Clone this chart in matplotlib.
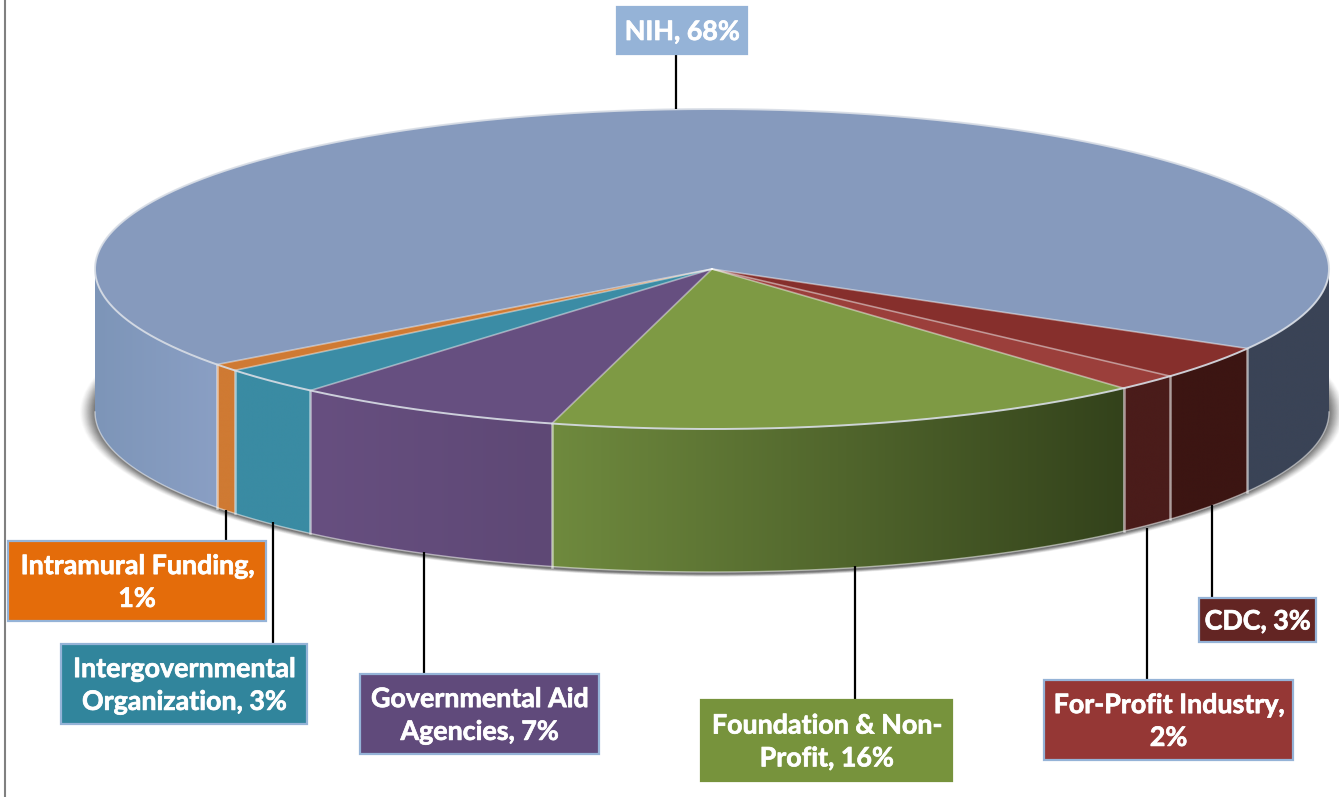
import numpy as np
import matplotlib
matplotlib.use("Agg")
import matplotlib.pyplot as plt
import matplotlib.patheffects as pe
from matplotlib.patches import Polygon, Ellipse, Rectangle
from matplotlib.colors import to_rgb

# ---- data -------------------------------------------------------------
categories = ["CDC", "For-Profit Industry", "Foundation & Non-Profit",
              "Governmental Aid Agencies", "Intergovernmental Organization",
              "Intramural Funding", "NIH"]
# slice shares as measured on the drawn pie (printed labels are rounded)
shares = [3.4, 1.7, 15.8, 7.1, 2.8, 0.74, 68.46]
label_texts = ["CDC, 3%", "For-Profit Industry,\n2%", "Foundation & Non-\nProfit, 16%",
               "Governmental Aid\nAgencies, 7%", "Intergovernmental\nOrganization, 3%",
               "Intramural Funding,\n1%", "NIH, 68%"]
top_colors = ["#862f2c", "#9b3f3b", "#7e9a44", "#664f80", "#3b8ca5", "#cf7a33", "#869abd"]
wall_left = ["#3c1512", "#4a1c1a", "#6f8a3e", "#674f80", "#3a8ba3", "#cf7a33", "#7d95b8"]
wall_right = ["#3c1512", "#4a1c1a", "#33421b", "#5e4875", "#3a8ba3", "#cf7a33", "#8a9fc4"]
nih_right_wall = "#3a4356"
box_colors = ["#632523", "#953735", "#77933c", "#604a7b", "#31859c", "#e46c0a", "#95b3d7"]
box_edges = ["#95b3d7", "#95b3d7", "#77933c", "#95b3d7", "#95b3d7", "#95b3d7", "#95b3d7"]
# label boxes: left, top, right, bottom; leader x
boxes = [(1199, 598, 1316, 642), (1044, 680, 1293, 760), (701, 700, 952, 781),
         (360, 674, 599, 754), (61, 644, 307, 724), (8, 541, 266, 621), (617, 7, 747, 54)]
leader_x = [1212, 1147, 855, 424, 273, 226, 676]
leader_start = [505, 528, 566, 552, 522, 510, 109]

# ---- geometry ---------------------------------------------------------
W, H = 1339, 797
CX, CY, RX, RY, DEPTH = 712, 269, 617, 160, 143
START = -29.8

def pt(deg, dy=0):
    t = np.radians(deg)
    return np.column_stack([CX + RX*np.cos(t), CY - RY*np.sin(t) + dy])

def arc(a, b, dy=0, n=None):
    n = n or max(2, int(abs(b-a)*4))
    return pt(np.linspace(a, b, n), dy)

fig = plt.figure(figsize=(W/100, H/100), dpi=100)
ax = fig.add_axes([0, 0, 1, 1])
ax.set_axis_off()

# frame line at left
ax.plot([5, 5], [0, H], color="#808080", lw=1.5, zorder=1)

# soft shadow
N = 28
for k in range(N):
    g = k/(N-1)
    ax.add_patch(Ellipse((CX, CY+143), 2*(RX+15-15*g), 2*(RY+5-3*g),
                         fc="#303030", ec="none", alpha=0.012+0.045*g, zorder=2))

def wall(a, b, c0, c1):
    """front wall between parametric angles a<b; gradient by x."""
    top = arc(a, b)
    bot = arc(b, a, DEPTH)
    xy = np.vstack([top, bot])
    p = Polygon(xy, closed=True, fc="none", ec="none", transform=ax.transData)
    ax.add_patch(p)
    x0, x1 = xy[:, 0].min(), xy[:, 0].max()
    grad = np.linspace(0, 1, 256)[None, :, None]
    img = (1-grad)*np.array(to_rgb(c0)) + grad*np.array(to_rgb(c1))
    im = ax.imshow(img, extent=(x0, x1, xy[:, 1].max(), xy[:, 1].min()),
                   aspect="auto", zorder=3, interpolation="bilinear")
    im.set_clip_path(p)

# slices
edges = START - np.cumsum([0] + [s*3.6 for s in shares])
for i, cat in enumerate(categories):
    a, b = edges[i], edges[i+1]
    if cat == "NIH":
        wall(START, 0, nih_right_wall, nih_right_wall)
        wall(-180, a, wall_left[i], wall_right[i])
    else:
        wall(b, a, wall_left[i], wall_right[i])

# separators and rims on the wall
rim = (1, 1, 1, 0.55)
for e in edges[:-1]:
    p0 = pt(np.array([e]))[0]
    ax.plot([p0[0], p0[0]], [p0[1], p0[1]+DEPTH], color=rim, lw=1.8, zorder=4)
bottom = arc(-180, 0, DEPTH)
ax.plot(bottom[:, 0], bottom[:, 1], color=(1, 1, 1, 0.5), lw=1.0, zorder=4)

# top faces
for i in range(len(categories)):
    xy = np.vstack([[CX, CY], arc(edges[i], edges[i+1])])
    ax.add_patch(Polygon(xy, closed=True, fc=top_colors[i], ec="none", zorder=5))
for i in range(len(categories)):
    p = pt(np.array([edges[i]]))[0]
    ax.plot([CX, p[0]], [CY, p[1]], color=(1, 1, 1, 0.45), lw=1.2, zorder=6)
outer = arc(0, 360, n=1500)
ax.plot(outer[:, 0], outer[:, 1], color=(0.85, 0.87, 0.9, 0.9), lw=1.4, zorder=6)

# leaders and labels
for i, t in enumerate(label_texts):
    l, top, r, bot = boxes[i]
    end = bot if categories[i] == "NIH" else top
    ax.plot([leader_x[i]]*2, [leader_start[i], end], color="black", lw=1.6, zorder=7,
            solid_capstyle="butt")
    ax.add_patch(Rectangle((l, top), r-l, bot-top, fc=box_colors[i], ec=box_edges[i], lw=1.6, zorder=8))
    ax.text((l+r)/2, (top+bot)/2 + 1.5, t, color="white", ha="center", va="center",
            family="Lato", weight="bold", fontsize=19.3, linespacing=1.44, zorder=9,
            path_effects=[pe.withStroke(linewidth=0.5, foreground="white")])

ax.set_xlim(0, W)
ax.set_ylim(H, 0)
fig.savefig("out.png", dpi=100, facecolor="white")
